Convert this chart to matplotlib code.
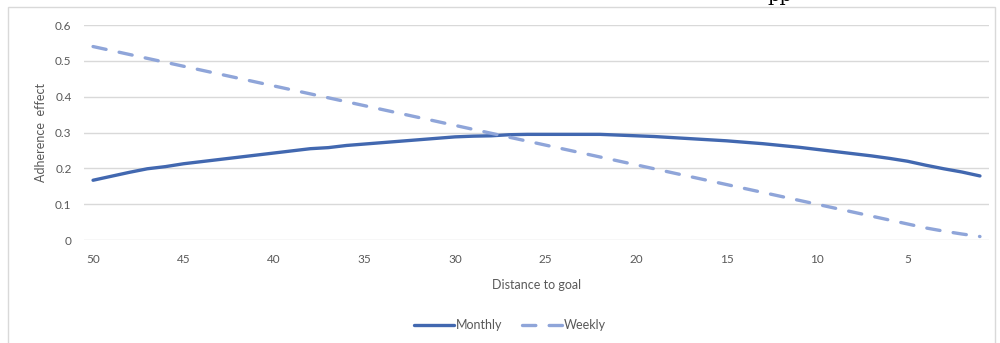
import matplotlib
matplotlib.use("Agg")
import matplotlib.pyplot as plt
from matplotlib.patches import Rectangle

# distance to goal runs from 50 down to 1
distance = list(range(50, 0, -1))

monthly = [0.167, 0.178, 0.189, 0.199, 0.205, 0.213, 0.219, 0.225, 0.231, 0.237,
           0.243, 0.249, 0.255, 0.258, 0.264, 0.268, 0.272, 0.276, 0.280, 0.284,
           0.288, 0.290, 0.291, 0.294, 0.295, 0.295, 0.295, 0.295, 0.295, 0.293,
           0.291, 0.289, 0.286, 0.283, 0.280, 0.277, 0.273, 0.269, 0.264, 0.259,
           0.253, 0.247, 0.241, 0.235, 0.228, 0.220, 0.209, 0.199, 0.190, 0.179]

weekly = [0.540, 0.529, 0.518, 0.507, 0.496, 0.485, 0.474, 0.463, 0.452, 0.441,
          0.430, 0.419, 0.408, 0.397, 0.386, 0.375, 0.364, 0.353, 0.342, 0.331,
          0.320, 0.309, 0.298, 0.287, 0.276, 0.265, 0.254, 0.243, 0.232, 0.221,
          0.210, 0.199, 0.188, 0.177, 0.166, 0.155, 0.144, 0.133, 0.122, 0.111,
          0.100, 0.089, 0.078, 0.067, 0.056, 0.045, 0.034, 0.025, 0.017, 0.010]

x_ticks = [50, 45, 40, 35, 30, 25, 20, 15, 10, 5]
y_ticks = [0, 0.1, 0.2, 0.3, 0.4, 0.5, 0.6]

plt.rcParams["font.family"] = ["Lato", "DejaVu Sans"]
TEXT = "#595959"
GRID = "#d9d9d9"

fig = plt.figure(figsize=(10, 3.43), dpi=100)

# chart frame
fig.patches.append(Rectangle((0.008, -0.05), 0.987, 1.03, transform=fig.transFigure,
                             fill=False, edgecolor=GRID, linewidth=1.0))
fig.text(0.78, 1.012, "pp", family="DejaVu Serif", fontsize=14, ha="center", va="center")

ax = fig.add_axes([0.084, 0.300, 0.905, 0.627])
ax.plot(distance, monthly, color="#4268b0", linewidth=2.4, label="Monthly",
        solid_capstyle="round")
ax.plot(distance, weekly, color="#8fa5d9", linewidth=2.4, label="Weekly",
        dashes=(4, 4), dash_capstyle="round")

ax.set_xlim(50.5, 0.5)
ax.set_ylim(0, 0.6)
ax.set_xticks(x_ticks)
ax.set_xticklabels([str(t) for t in x_ticks])
ax.set_yticks(y_ticks)
ax.set_yticklabels(["0" if t == 0 else f"{t:.1f}" for t in y_ticks])
ax.tick_params(axis="both", length=0, labelsize=8.5, labelcolor=TEXT)
ax.tick_params(axis="x", pad=10)
ax.tick_params(axis="y", pad=9)
ax.grid(axis="y", color=GRID, linewidth=1.0)
ax.set_axisbelow(True)
for s in ax.spines.values():
    s.set_visible(False)

ax.set_xlabel("Distance to goal", fontsize=9, color=TEXT, labelpad=10)
ax.set_ylabel("Adherence  effect", fontsize=9, color=TEXT, labelpad=6)

fig.legend(loc="center", bbox_to_anchor=(0.51, 0.052), ncol=2, frameon=False,
           fontsize=9, labelcolor=TEXT, handlelength=3.2, handletextpad=0.2,
           columnspacing=1.5)

fig.savefig("out.png", dpi=100)
